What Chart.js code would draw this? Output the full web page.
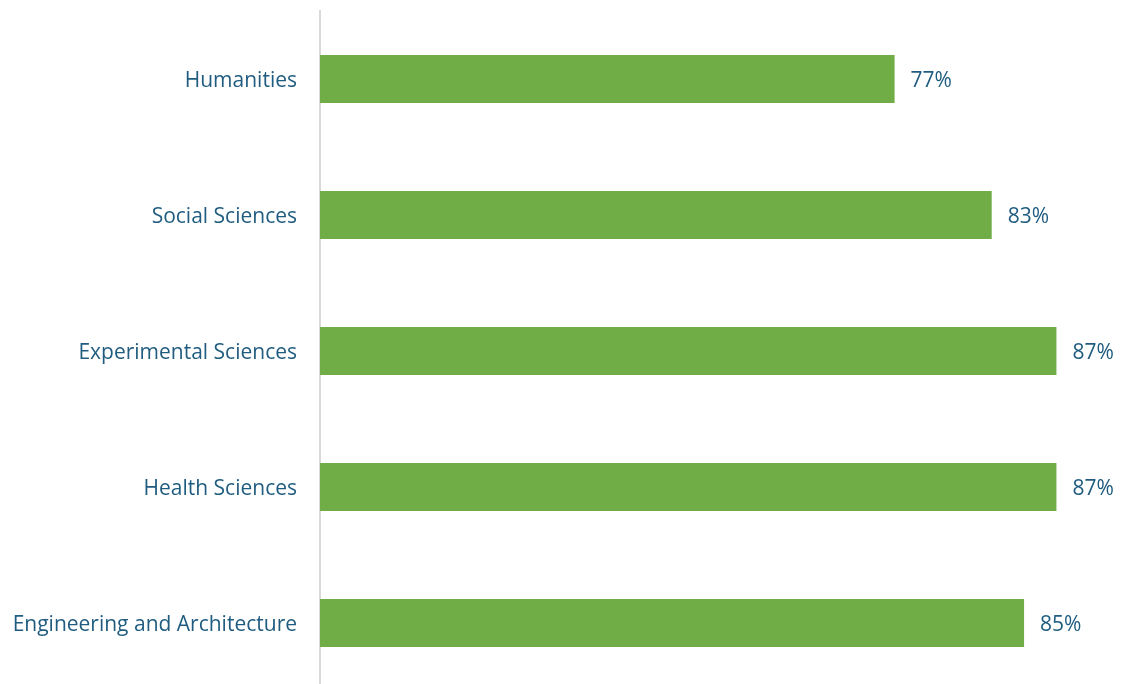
<!DOCTYPE html>
<html>
<head>
<meta charset="utf-8">
<script src="https://cdn.jsdelivr.net/npm/chart.js@4"></script>
<style>
  html, body { margin: 0; padding: 0; background: #fff; overflow: hidden; }
  #wrap { width: 1121px; height: 702px; }
</style>
</head>
<body>
<div id="wrap"><canvas id="chart-fields"></canvas></div>
<script>
const fields = ['Humanities', 'Social Sciences', 'Experimental Sciences', 'Health Sciences', 'Engineering and Architecture'];
const shares = [77, 83, 87, 87, 85];

const TEXT = '#1f5c80';
const FONT = "'Open Sans', sans-serif";

// value labels to the right of each bar
const barLabels = {
    id: 'barLabels',
    afterDatasetsDraw(chart) {
        const ctx = chart.ctx;
        const meta = chart.getDatasetMeta(0);
        ctx.save();
        ctx.fillStyle = TEXT;
        ctx.font = '21px ' + FONT;
        ctx.textAlign = 'left';
        ctx.textBaseline = 'middle';
        meta.data.forEach((bar, i) => {
            ctx.fillText(shares[i] + '%', bar.x + 16, bar.y + 2);
        });
        ctx.restore();
    }
};

new Chart(document.getElementById('chart-fields'), {
    type: 'bar',
    data: {
        labels: fields,
        datasets: [{
            data: shares,
            backgroundColor: '#70ad47',
            barPercentage: 0.706,
            categoryPercentage: 0.5
        }]
    },
    options: {
        indexAxis: 'y',
        responsive: true,
        maintainAspectRatio: false,
        animation: false,
        layout: { padding: { top: 11, right: 16, bottom: 11, left: 0 } },
        plugins: { legend: { display: false }, tooltip: { enabled: false } },
        scales: {
            x: {
                min: 41.5,
                max: 90,
                display: false
            },
            y: {
                afterFit(scale) {
                    scale.width = 320;
                    scale.paddingTop = 0;
                    scale.paddingBottom = 0;
                },
                grid: { display: false, drawTicks: false },
                border: { color: '#d9d9d9', width: 2 },
                ticks: {
                    color: TEXT,
                    padding: 23,
                    labelOffset: 2,
                    font: { family: FONT, size: 21 }
                }
            }
        }
    },
    plugins: [barLabels]
});
</script>
</body>
</html>
